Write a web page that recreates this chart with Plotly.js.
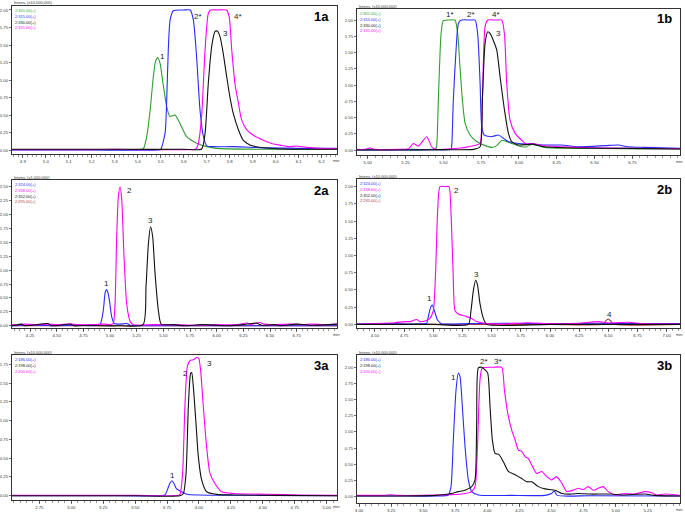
<!DOCTYPE html>
<html>
<head>
<meta charset="utf-8">
<script src="https://cdn.plot.ly/plotly-3.0.1.min.js"></script>
<style>html,body{margin:0;padding:0;background:#fff;}#chart{width:685px;height:513px;}</style>
</head>
<body>
<div id="chart"></div>
<script>
// ---------------- DATA ----------------
// Panel 1a
const g1a_x = [4.853, 5.0, 5.2, 5.4, 5.417, 5.425, 5.439, 5.454, 5.468, 5.477, 5.487, 5.497, 5.51, 5.526, 5.54, 5.562, 5.584, 5.613, 5.657, 5.70, 5.743, 5.9, 6.1, 6.267];
const g1a_y = [0.005, 0.005, 0.005, 0.005, 0.01, 0.02, 0.19, 0.57, 1.05, 1.26, 1.32, 1.24, 0.95, 0.62, 0.48, 0.50, 0.38, 0.19, 0.095, 0.048, 0.024, 0.012, 0.01, 0.01];
const b1a_x = [4.853, 5.2, 5.49, 5.50, 5.519, 5.526, 5.533, 5.541, 5.555, 5.6, 5.628, 5.642, 5.657, 5.671, 5.686, 5.70, 5.729, 5.816, 5.888, 5.96, 6.106, 6.267];
const b1a_y = [0.0, 0.0, 0.0, 0.01, 0.24, 0.71, 1.43, 1.86, 1.99, 2.0, 2.0, 1.86, 1.29, 0.57, 0.19, 0.06, 0.048, 0.048, 0.04, 0.03, 0.024, 0.024];
const k1a_x = [4.853, 5.3, 5.6, 5.678, 5.693, 5.707, 5.722, 5.736, 5.746, 5.758, 5.772, 5.787, 5.801, 5.816, 5.838, 5.859, 5.888, 5.93, 6.03, 6.267];
const k1a_y = [0.01, 0.01, 0.01, 0.015, 0.24, 0.95, 1.48, 1.69, 1.70, 1.62, 1.38, 1.05, 0.76, 0.52, 0.29, 0.14, 0.07, 0.04, 0.014, 0.01];
const m1a_x = [4.853, 5.2, 5.3, 5.4, 5.6, 5.65, 5.657, 5.664, 5.678, 5.693, 5.707, 5.717, 5.75, 5.787, 5.798, 5.809, 5.823, 5.838, 5.852, 5.874, 5.903, 5.946, 5.99, 6.019, 6.06, 6.09, 6.135, 6.19, 6.267];
const m1a_y = [0.005, 0.005, 0.01, 0.005, 0.005, 0.01, 0.03, 0.095, 0.48, 1.43, 1.95, 2.0, 2.0, 2.0, 1.9, 1.43, 0.95, 0.67, 0.43, 0.29, 0.21, 0.14, 0.086, 0.07, 0.048, 0.057, 0.038, 0.024, 0.02];
// Panel 1b
const g1b_x = [4.929, 5.1, 5.3, 5.45, 5.457, 5.467, 5.485, 5.50, 5.54, 5.577, 5.595, 5.61, 5.626, 5.644, 5.677, 5.72, 5.776, 5.82, 5.853, 5.886, 5.908, 5.952, 6.018, 6.05, 6.085, 6.17, 6.4, 6.7, 7.065];
const g1b_y = [0.005, 0.005, 0.01, 0.02, 0.1, 0.77, 1.79, 1.99, 2.0, 2.0, 1.79, 1.28, 0.77, 0.41, 0.23, 0.13, 0.067, 0.04, 0.067, 0.15, 0.14, 0.10, 0.05, 0.05, 0.09, 0.04, 0.025, 0.02, 0.015];
const b1b_x = [4.929, 5.2, 5.4, 5.55, 5.555, 5.566, 5.584, 5.60, 5.62, 5.68, 5.71, 5.727, 5.743, 5.754, 5.771, 5.82, 5.864, 5.897, 5.93, 5.996, 6.085, 6.17, 6.28, 6.39, 6.57, 6.657, 6.72, 6.83, 7.065];
const b1b_y = [0.0, 0.0, 0.005, 0.01, 0.05, 0.77, 1.54, 1.95, 2.0, 2.0, 2.0, 1.79, 1.03, 0.36, 0.23, 0.205, 0.23, 0.18, 0.13, 0.10, 0.09, 0.077, 0.077, 0.05, 0.067, 0.077, 0.05, 0.04, 0.025];
const k1b_x = [4.929, 5.2, 5.5, 5.7, 5.743, 5.758, 5.776, 5.794, 5.81, 5.83, 5.853, 5.875, 5.904, 5.93, 5.952, 5.996, 6.085, 6.17, 6.4, 6.7, 7.065];
const k1b_y = [0.0, 0.0, 0.005, 0.01, 0.05, 0.77, 1.64, 1.82, 1.79, 1.69, 1.54, 1.13, 0.62, 0.26, 0.13, 0.077, 0.09, 0.05, 0.03, 0.025, 0.015];
const m1b_x = [4.929, 4.98, 5.015, 5.05, 5.2, 5.27, 5.302, 5.335, 5.39, 5.423, 5.45, 5.55, 5.62, 5.666, 5.72, 5.743, 5.758, 5.776, 5.794, 5.85, 5.886, 5.904, 5.919, 5.941, 5.974, 6.018, 6.05, 6.095, 6.15, 6.28, 6.39, 6.6, 7.065];
const m1b_y = [0.01, 0.01, 0.03, 0.01, 0.01, 0.02, 0.10, 0.06, 0.205, 0.05, 0.01, 0.02, 0.03, 0.05, 0.077, 0.1, 0.77, 1.9, 2.0, 2.0, 2.0, 1.79, 1.03, 0.46, 0.26, 0.15, 0.09, 0.10, 0.07, 0.05, 0.04, 0.03, 0.02];
// Panel 2a
const b2a_x = [4.081, 4.3, 4.5, 4.7, 4.85, 4.906, 4.937, 4.955, 4.968, 4.98, 4.994, 5.016, 5.04, 5.094, 5.156, 5.19, 5.4, 5.7, 6.0, 6.3, 6.6, 7.128];
const b2a_y = [0.0, 0.01, 0.0, 0.01, 0.0, 0.02, 0.28, 0.6, 0.65, 0.6, 0.46, 0.16, 0.04, 0.03, 0.04, 0.01, 0.0, 0.0, 0.0, 0.0, 0.0, 0.0];
const m2a_x = [4.081, 4.15, 4.2, 4.3, 4.42, 4.5, 4.63, 4.7, 4.85, 4.95, 5.0, 5.03, 5.047, 5.0625, 5.078, 5.094, 5.11, 5.13, 5.156, 5.19, 5.22, 5.4, 5.6, 5.8, 6.0, 6.2, 6.28, 6.32, 6.4, 6.45, 6.5, 6.7, 6.8, 6.9, 7.0, 7.128];
const m2a_y = [0.02, 0.02, 0.03, 0.02, 0.03, 0.02, 0.03, 0.02, 0.02, 0.03, 0.02, 0.04, 0.40, 1.6, 2.32, 2.5, 2.26, 1.3, 0.40, 0.07, 0.02, 0.02, 0.02, 0.01, 0.02, 0.02, 0.05, 0.02, 0.06, 0.03, 0.02, 0.03, 0.02, 0.03, 0.02, 0.03];
const k2a_x = [4.081, 4.17, 4.2, 4.42, 4.45, 4.63, 4.66, 4.8, 4.9, 5.1, 5.31, 5.3375, 5.36, 5.38, 5.4, 5.42, 5.453, 5.48, 5.6, 5.7, 5.85, 6.0, 6.1, 6.25, 6.33, 6.37, 6.42, 6.55, 6.6, 6.75, 6.9, 7.05, 7.128];
const k2a_y = [0.0, 0.03, 0.0, 0.04, 0.0, 0.03, 0.0, 0.01, 0.0, 0.0, 0.02, 0.7, 1.48, 1.78, 1.6, 1.0, 0.28, 0.03, 0.02, 0.0, 0.02, 0.01, 0.0, 0.02, 0.04, 0.05, 0.01, 0.02, 0.0, 0.03, 0.01, 0.02, 0.03];
const r2a_x = [4.081, 5.0, 6.0, 7.128];
const r2a_y = [0.0, 0.0, 0.0, 0.0];
// Panel 2b
const b2b_x = [4.346, 4.6, 4.8, 4.93, 4.943, 4.963, 4.98, 4.991, 5.009, 5.037, 5.071, 5.3, 5.6, 6.0, 6.4, 6.8, 7.114];
const b2b_y = [0.005, 0.01, 0.005, 0.01, 0.014, 0.16, 0.26, 0.28, 0.2, 0.06, 0.01, 0.01, 0.015, 0.01, 0.015, 0.01, 0.01];
const m2b_x = [4.346, 4.5, 4.67, 4.757, 4.8, 4.857, 4.886, 4.93, 4.97, 5.0, 5.02, 5.037, 5.057, 5.1, 5.134, 5.151, 5.169, 5.186, 5.214, 5.271, 5.329, 5.371, 5.443, 5.6, 5.814, 6.0, 6.243, 6.414, 6.5, 6.671, 6.8, 7.114];
const m2b_y = [0.0, 0.01, 0.024, 0.04, 0.04, 0.07, 0.04, 0.05, 0.086, 0.2, 0.78, 1.64, 2.0, 2.0, 2.0, 1.64, 0.78, 0.2, 0.15, 0.12, 0.086, 0.04, 0.014, 0.005, 0.024, 0.01, 0.014, 0.04, 0.02, 0.03, 0.01, 0.005];
const k2b_x = [4.346, 5.0, 5.3, 5.323, 5.343, 5.363, 5.38, 5.4, 5.429, 5.457, 6.0, 7.114];
const k2b_y = [0.0, 0.0, 0.0, 0.2, 0.49, 0.64, 0.56, 0.30, 0.086, 0.0, 0.0, 0.0];
const r2b_x = [4.346, 6.0, 6.457, 6.477, 6.5, 6.52, 6.543, 7.114];
const r2b_y = [0.0, 0.0, 0.005, 0.05, 0.077, 0.05, 0.005, 0.0];
// Panel 3a
const b3a_x = [2.536, 3.2, 3.7, 3.734, 3.752, 3.773, 3.789, 3.805, 3.825, 3.865, 3.904, 4.0, 4.5, 5.081];
const b3a_y = [0.0, 0.0, 0.0, 0.01, 0.075, 0.17, 0.2, 0.16, 0.09, 0.053, 0.02, 0.01, 0.005, 0.0];
const k3a_x = [2.536, 3.5, 3.85, 3.878, 3.899, 3.917, 3.935, 3.943, 3.956, 3.977, 3.995, 4.021, 4.06, 4.139, 4.27, 4.6, 5.081];
const k3a_y = [0.0, 0.0, 0.0, 0.03, 0.3, 1.19, 1.63, 1.64, 1.45, 0.96, 0.52, 0.21, 0.053, 0.018, 0.01, 0.005, 0.0];
const m3a_x = [2.536, 3.5, 3.84, 3.852, 3.872, 3.89, 3.909, 3.93, 3.956, 3.982, 3.998, 4.013, 4.034, 4.06, 4.086, 4.126, 4.178, 4.27, 4.53, 4.79, 5.081];
const m3a_y = [0.005, 0.005, 0.005, 0.02, 0.3, 1.19, 1.72, 1.8, 1.81, 1.84, 1.83, 1.67, 1.19, 0.65, 0.3, 0.16, 0.053, 0.03, 0.02, 0.01, 0.005];
// Panel 3b
const b3b_x = [2.984, 3.3, 3.6, 3.696, 3.717, 3.735, 3.756, 3.774, 3.787, 3.805, 3.826, 3.852, 3.878, 3.93, 4.19, 4.45, 4.5, 4.522, 4.545, 4.8, 5.502];
const b3b_y = [0.01, 0.01, 0.01, 0.026, 0.155, 0.88, 1.65, 1.91, 1.86, 1.4, 0.78, 0.26, 0.078, 0.026, 0.02, 0.02, 0.05, 0.088, 0.02, 0.015, 0.01];
const k3b_x = [2.984, 3.3, 3.6, 3.696, 3.774, 3.826, 3.878, 3.904, 3.917, 3.93, 3.956, 3.982, 4.003, 4.021, 4.039, 4.06, 4.091, 4.125, 4.164, 4.216, 4.268, 4.307, 4.346, 4.398, 4.45, 4.528, 4.58, 4.658, 4.71, 4.8, 4.969, 5.047, 5.23, 5.3, 5.502];
const k3b_y = [0.01, 0.01, 0.02, 0.04, 0.078, 0.1, 0.155, 0.26, 1.14, 1.99, 2.0, 1.96, 1.91, 1.40, 0.88, 0.67, 0.65, 0.54, 0.39, 0.34, 0.28, 0.23, 0.23, 0.155, 0.12, 0.10, 0.05, 0.04, 0.05, 0.04, 0.04, 0.026, 0.04, 0.02, 0.01];
const m3b_x = [2.984, 3.1, 3.2, 3.24, 3.3, 3.5, 3.7, 3.8, 3.878, 3.904, 3.925, 3.943, 3.961, 4.05, 4.112, 4.133, 4.159, 4.19, 4.216, 4.242, 4.268, 4.294, 4.32, 4.346, 4.385, 4.424, 4.463, 4.502, 4.54, 4.58, 4.619, 4.658, 4.71, 4.748, 4.787, 4.826, 4.865, 4.904, 4.943, 4.995, 5.073, 5.15, 5.229, 5.281, 5.32, 5.385, 5.502];
const m3b_y = [0.02, 0.02, 0.02, 0.03, 0.02, 0.02, 0.03, 0.04, 0.078, 0.155, 0.88, 1.81, 1.99, 2.0, 2.0, 1.65, 1.29, 1.03, 0.88, 0.72, 0.70, 0.62, 0.59, 0.49, 0.36, 0.39, 0.31, 0.26, 0.31, 0.21, 0.078, 0.093, 0.13, 0.11, 0.155, 0.10, 0.13, 0.155, 0.078, 0.026, 0.05, 0.04, 0.078, 0.06, 0.026, 0.04, 0.02];

// Tick values / labels
const x1aTicks = [4.9, 5.0, 5.1, 5.2, 5.3, 5.4, 5.5, 5.6, 5.7, 5.8, 5.9, 6.0, 6.1, 6.2];
const x1aLabels = ["4.9", "5.0", "5.1", "5.2", "5.3", "5.4", "5.5", "5.6", "5.7", "5.8", "5.9", "6.0", "6.1", "6.2"];
const x1bTicks = [5.00, 5.25, 5.50, 5.75, 6.00, 6.25, 6.50, 6.75];
const x1bLabels = ["5.00", "5.25", "5.50", "5.75", "6.00", "6.25", "6.50", "6.75"];
const x2aTicks = [4.25, 4.50, 4.75, 5.00, 5.25, 5.50, 5.75, 6.00, 6.25, 6.50, 6.75];
const x2aLabels = ["4.25", "4.50", "4.75", "5.00", "5.25", "5.50", "5.75", "6.00", "6.25", "6.50", "6.75"];
const x2bTicks = [4.50, 4.75, 5.00, 5.25, 5.50, 5.75, 6.00, 6.25, 6.50, 6.75, 7.00];
const x2bLabels = ["4.50", "4.75", "5.00", "5.25", "5.50", "5.75", "6.00", "6.25", "6.50", "6.75", "7.00"];
const x3aTicks = [2.75, 3.00, 3.25, 3.50, 3.75, 4.00, 4.25, 4.50, 4.75, 5.00];
const x3aLabels = ["2.75", "3.00", "3.25", "3.50", "3.75", "4.00", "4.25", "4.50", "4.75", "5.00"];
const x3bTicks = [3.00, 3.25, 3.50, 3.75, 4.00, 4.25, 4.50, 4.75, 5.00, 5.25];
const x3bLabels = ["3.00", "3.25", "3.50", "3.75", "4.00", "4.25", "4.50", "4.75", "5.00", "5.25"];
const y200Ticks = [0, 0.25, 0.5, 0.75, 1.0, 1.25, 1.5, 1.75, 2.0];
const y200Labels = ["0.00", "0.25", "0.50", "0.75", "1.00", "1.25", "1.50", "1.75", "2.00"];
const y250Ticks = [0, 0.25, 0.5, 0.75, 1.0, 1.25, 1.5, 1.75, 2.0, 2.25, 2.5];
const y250Labels = ["0.00", "0.25", "0.50", "0.75", "1.00", "1.25", "1.50", "1.75", "2.00", "2.25", "2.50"];
const y175Ticks = [0, 0.25, 0.5, 0.75, 1.0, 1.25, 1.5, 1.75];
const y175Labels = ["0.00", "0.25", "0.50", "0.75", "1.00", "1.25", "1.50", "1.75"];

const leg1 = ["2:301.00(+)", "2:315.00(+)", "2:330.00(+)", "2:331.00(+)"];
const leg2 = ["2:324.00(+)", "2:338.00(+)", "2:352.00(+)", "2:295.00(+)"];
const leg3 = ["2:186.00(+)", "2:198.00(+)", "2:200.00(+)"];
const panelNames = ["1a", "1b", "2a", "2b", "3a", "3b"];
const intensLabels = ["Intens. (x10,000,000)", "Intens. (x10,000,000)", "Intens. (x1,000,000)", "Intens. (x10,000,000)", "Intens. (x10,000,000)", "Intens. (x10,000,000)"];

// ---------------- STYLE / LAYOUT ----------------
const W = 685, H = 513;
const GREEN = "#2f9e2f", BLUE = "#2a2aff", BLACK = "#111111", MAG = "#ff00ff", RED = "#b03a3a";
const FONT = "Liberation Sans, Arial, sans-serif";
const px = v => v / W, py = v => 1 - v / H;

// panel boxes in pixels [left, right, top, bottom], axis ranges
const panels = [
  {box: [12, 337, 6, 154],   xr: [4.853, 6.267], yr: [-0.057, 2.057], xt: x1aTicks, xl: x1aLabels, yt: y200Ticks, yl: y200Labels, minor: 0.02},
  {box: [357, 680, 9, 155],  xr: [4.929, 7.065], yr: [-0.077, 2.17],  xt: x1bTicks, xl: x1bLabels, yt: y200Ticks, yl: y200Labels, minor: 0.05},
  {box: [12, 337, 180, 328], xr: [4.081, 7.128], yr: [-0.04, 2.62],   xt: x2aTicks, xl: x2aLabels, yt: y250Ticks, yl: y250Labels, minor: 0.05},
  {box: [357, 680, 179, 328],xr: [4.346, 7.114], yr: [-0.053, 2.11],  xt: x2bTicks, xl: x2bLabels, yt: y200Ticks, yl: y200Labels, minor: 0.05},
  {box: [12, 337, 355, 500], xr: [2.536, 5.081], yr: [-0.057, 1.874], xt: x3aTicks, xl: x3aLabels, yt: y175Ticks, yl: y175Labels, minor: 0.05},
  {box: [357, 680, 355, 503],xr: [2.984, 5.502], yr: [-0.098, 2.19],  xt: x3bTicks, xl: x3bLabels, yt: y200Ticks, yl: y200Labels, minor: 0.05}
];

const layout = {
  width: W, height: H,
  margin: {l: 0, r: 0, t: 0, b: 0},
  paper_bgcolor: "#fff", plot_bgcolor: "#fff",
  showlegend: false,
  font: {family: FONT, color: "#222"},
  annotations: []
};

panels.forEach((p, i) => {
  const n = i === 0 ? "" : String(i + 1);
  const [l, r, t, b] = p.box;
  layout["xaxis" + n] = {
    domain: [px(l), px(r)], range: p.xr, anchor: "y" + n,
    showline: true, mirror: true, linecolor: "#333", linewidth: 1,
    ticks: "outside", ticklen: 3, tickwidth: 0.7, tickcolor: "#333",
    tickmode: "array", tickvals: p.xt, ticktext: p.xl,
    tickfont: {size: 4.3, color: "#333", family: FONT},
    minor: {tickmode: "linear", tick0: p.xt[0], dtick: p.minor, ticks: "outside", ticklen: 1.5, tickwidth: 0.6, tickcolor: "#555"},
    showgrid: false, zeroline: false, fixedrange: true
  };
  layout["yaxis" + n] = {
    domain: [py(b), py(t)], range: p.yr, anchor: "x" + n,
    showline: true, mirror: true, linecolor: "#333", linewidth: 1,
    ticks: "outside", ticklen: 2, tickwidth: 0.7, tickcolor: "#333",
    tickmode: "array", tickvals: p.yt, ticktext: p.yl,
    tickfont: {size: 4.3, color: "#333", family: FONT},
    showgrid: false, zeroline: false, fixedrange: true
  };
  // Intens label above box
  layout.annotations.push({xref: "paper", yref: "paper", x: px(l + 1), y: py(t - 3), xanchor: "left", yanchor: "middle",
    borderpad: 0, text: intensLabels[i], showarrow: false, font: {size: 4, color: "#333", family: FONT}});
  // "min" label
  layout.annotations.push({xref: "paper", yref: "paper", x: px(r - 5), y: py(b + 6.5), xanchor: "left", yanchor: "middle",
    borderpad: 0, text: "min", showarrow: false, font: {size: 4, color: "#333", family: FONT}});
  // panel name
  layout.annotations.push({xref: "paper", yref: "paper", x: px(r - 6), y: py(t + 10), xanchor: "right", yanchor: "middle",
    text: "<b>" + panelNames[i] + "</b>", showarrow: false, font: {size: 13, color: "#000", family: FONT}});
});

// in-plot legend text
function legend(i, labels, colors) {
  const [l, r, t, b] = panels[i].box;
  labels.forEach((s, k) => {
    layout.annotations.push({xref: "paper", yref: "paper", x: px(l + 1.5), y: py(t + 4.5 + k * 5.8), xanchor: "left", yanchor: "middle",
      borderpad: 0, text: s, showarrow: false, font: {size: 4, color: colors[k], family: FONT}});
  });
}
legend(0, leg1, [GREEN, BLUE, BLACK, MAG]);
legend(1, leg1, [GREEN, BLUE, BLACK, MAG]);
legend(2, leg2, [BLUE, MAG, BLACK, RED]);
legend(3, leg2, [BLUE, MAG, BLACK, RED]);
legend(4, leg3, [BLUE, BLACK, MAG]);
legend(5, leg3, [BLUE, BLACK, MAG]);

// peak labels (data coords)
function peak(i, text, x, y) {
  const n = i === 0 ? "" : String(i + 1);
  layout.annotations.push({xref: "x" + n, yref: "y" + n, x: x, y: y, text: text, showarrow: false,
    font: {size: 8, color: "#222", family: FONT}});
}
peak(0, "1", 5.507, 1.33); peak(0, "2*", 5.664, 1.90); peak(0, "3", 5.784, 1.67); peak(0, "4*", 5.838, 1.90);
peak(1, "1*", 5.545, 2.09); peak(1, "2*", 5.683, 2.09); peak(1, "4*", 5.846, 2.09); peak(1, "3", 5.864, 1.79);
peak(2, "1", 4.969, 0.76); peak(2, "2", 5.18, 2.44); peak(2, "3", 5.38, 1.90);
peak(3, "1", 4.971, 0.37); peak(3, "2", 5.2, 1.94); peak(3, "3", 5.366, 0.72); peak(3, "4", 6.506, 0.15);
peak(4, "1", 3.789, 0.275); peak(4, "2", 3.893, 1.63); peak(4, "3", 4.079, 1.76);
peak(5, "1", 3.735, 1.84); peak(5, "2*", 3.977, 2.09); peak(5, "3*", 4.081, 2.09);

// ---------------- TRACES ----------------
function tr(x, y, color, i) {
  const n = i === 0 ? "" : String(i + 1);
  return {x: x, y: y, type: "scatter", mode: "lines", xaxis: "x" + n, yaxis: "y" + n,
    line: {color: color, width: 1.1, shape: "spline", smoothing: 0.6}, hoverinfo: "skip", showlegend: false, cliponaxis: true};
}
const data = [
  tr(g1a_x, g1a_y, GREEN, 0), tr(b1a_x, b1a_y, BLUE, 0), tr(m1a_x, m1a_y, MAG, 0), tr(k1a_x, k1a_y, BLACK, 0),
  tr(g1b_x, g1b_y, GREEN, 1), tr(b1b_x, b1b_y, BLUE, 1), tr(m1b_x, m1b_y, MAG, 1), tr(k1b_x, k1b_y, BLACK, 1),
  tr(r2a_x, r2a_y, RED, 2), tr(b2a_x, b2a_y, BLUE, 2), tr(m2a_x, m2a_y, MAG, 2), tr(k2a_x, k2a_y, BLACK, 2),
  tr(r2b_x, r2b_y, RED, 3), tr(b2b_x, b2b_y, BLUE, 3), tr(m2b_x, m2b_y, MAG, 3), tr(k2b_x, k2b_y, BLACK, 3),
  tr(b3a_x, b3a_y, BLUE, 4), tr(m3a_x, m3a_y, MAG, 4), tr(k3a_x, k3a_y, BLACK, 4),
  tr(b3b_x, b3b_y, BLUE, 5), tr(m3b_x, m3b_y, MAG, 5), tr(k3b_x, k3b_y, BLACK, 5)
];

Plotly.newPlot("chart", data, layout, {staticPlot: true, displayModeBar: false});
</script>
</body>
</html>
